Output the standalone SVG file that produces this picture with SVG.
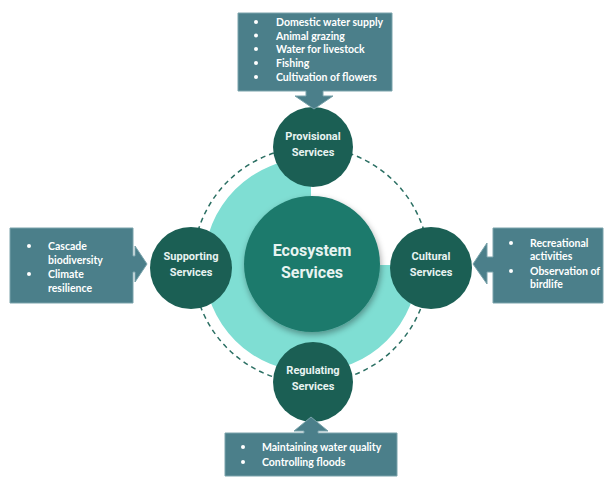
<svg xmlns="http://www.w3.org/2000/svg" width="606" height="477" viewBox="0 0 606 477">
<defs>
<style>
.box{fill:#4b7f8a;stroke:#7aa3ab;stroke-width:1}
.bt{font-family:Lato,"Open Sans","Liberation Sans",sans-serif;font-weight:700;font-size:10.5px;fill:#ffffff}
.sat{fill:#1b5f54}
.st{font-family:Roboto,"Liberation Sans",sans-serif;font-weight:700;font-size:11px;fill:#e8f3f1;text-anchor:middle}
.ct{font-family:Roboto,"Liberation Sans",sans-serif;font-weight:700;font-size:16px;fill:#e8f3f1;text-anchor:middle}
</style>
<filter id="sh" x="-30%" y="-30%" width="160%" height="160%">
<feDropShadow dx="1" dy="3" stdDeviation="3" flood-color="#000" flood-opacity="0.35"/>
</filter>
</defs>
<rect width="606" height="477" fill="#ffffff"/>
<g id="ring">
<path d="M311,265 L311,158 A107,107 0 1 0 418,265 Z" fill="#7fded3"/>
</g>
<g id="connectors">
<circle cx="311" cy="265" r="118" fill="none" stroke="#2b6f63" stroke-width="1.5" stroke-dasharray="5,4"/>
</g>
<g id="center">
<circle cx="312" cy="264" r="68" fill="#1e7a6c" filter="url(#sh)"/>
<text class="ct" x="312" y="256">Ecosystem</text>
<text class="ct" x="312" y="278">Services</text>
</g>
<g id="provisional">
<circle class="sat" cx="313" cy="147" r="40"/>
<text class="st" x="313" y="140">Provisional</text>
<text class="st" x="313" y="156">Services</text>
</g>
<g id="supporting">
<circle class="sat" cx="191" cy="268" r="41"/>
<text class="st" x="191" y="260">Supporting</text>
<text class="st" x="191" y="276">Services</text>
</g>
<g id="cultural">
<circle class="sat" cx="431" cy="268" r="41"/>
<text class="st" x="431" y="260">Cultural</text>
<text class="st" x="431" y="276">Services</text>
</g>
<g id="regulating">
<circle class="sat" cx="313" cy="382" r="40"/>
<text class="st" x="313" y="374">Regulating</text>
<text class="st" x="313" y="390">Services</text>
</g>
<g id="provisional-box">
<path class="box" d="M238,13 H392 V91 H323 V96 H333 L314,109 L295,96 H306 V91 H238 Z"/>
<g class="bt">
<circle cx="256" cy="22" r="2" fill="#fff"/><text x="276" y="26">Domestic water supply</text>
<circle cx="256" cy="35.5" r="2" fill="#fff"/><text x="276" y="39.5">Animal grazing</text>
<circle cx="256" cy="49" r="2" fill="#fff"/><text x="276" y="53">Water for livestock</text>
<circle cx="256" cy="63" r="2" fill="#fff"/><text x="276" y="67">Fishing</text>
<circle cx="256" cy="77" r="2" fill="#fff"/><text x="276" y="81">Cultivation of flowers</text>
</g>
</g>
<g id="supporting-box">
<path class="box" d="M10,228 H133 V256 H135 V246 L147,264 L135,282 V272 H133 V303 H10 Z"/>
<g class="bt">
<circle cx="29" cy="246" r="2" fill="#fff"/><text x="48" y="250">Cascade</text>
<text x="48" y="264">biodiversity</text>
<circle cx="29" cy="274" r="2" fill="#fff"/><text x="48" y="278">Climate</text>
<text x="48" y="292">resilience</text>
</g>
</g>
<g id="cultural-box">
<path class="box" d="M603,228 H493 V257 H487 V243 L473,264 L487,284 V272 H493 V303 H603 Z"/>
<g class="bt">
<circle cx="511" cy="243" r="2" fill="#fff"/><text x="530" y="247">Recreational</text>
<text x="530" y="260">activities</text>
<circle cx="511" cy="271" r="2" fill="#fff"/><text x="530" y="275">Observation of</text>
<text x="530" y="288">birdlife</text>
</g>
</g>
<g id="regulating-box">
<path class="box" d="M225,476 H397 V433 H318 V431 H328 L311,417 L294,431 H304 V433 H225 Z"/>
<g class="bt">
<circle cx="243" cy="447" r="2" fill="#fff"/><text x="262" y="451">Maintaining water quality</text>
<circle cx="243" cy="462" r="2" fill="#fff"/><text x="262" y="466">Controlling floods</text>
</g>
</g>
</svg>
